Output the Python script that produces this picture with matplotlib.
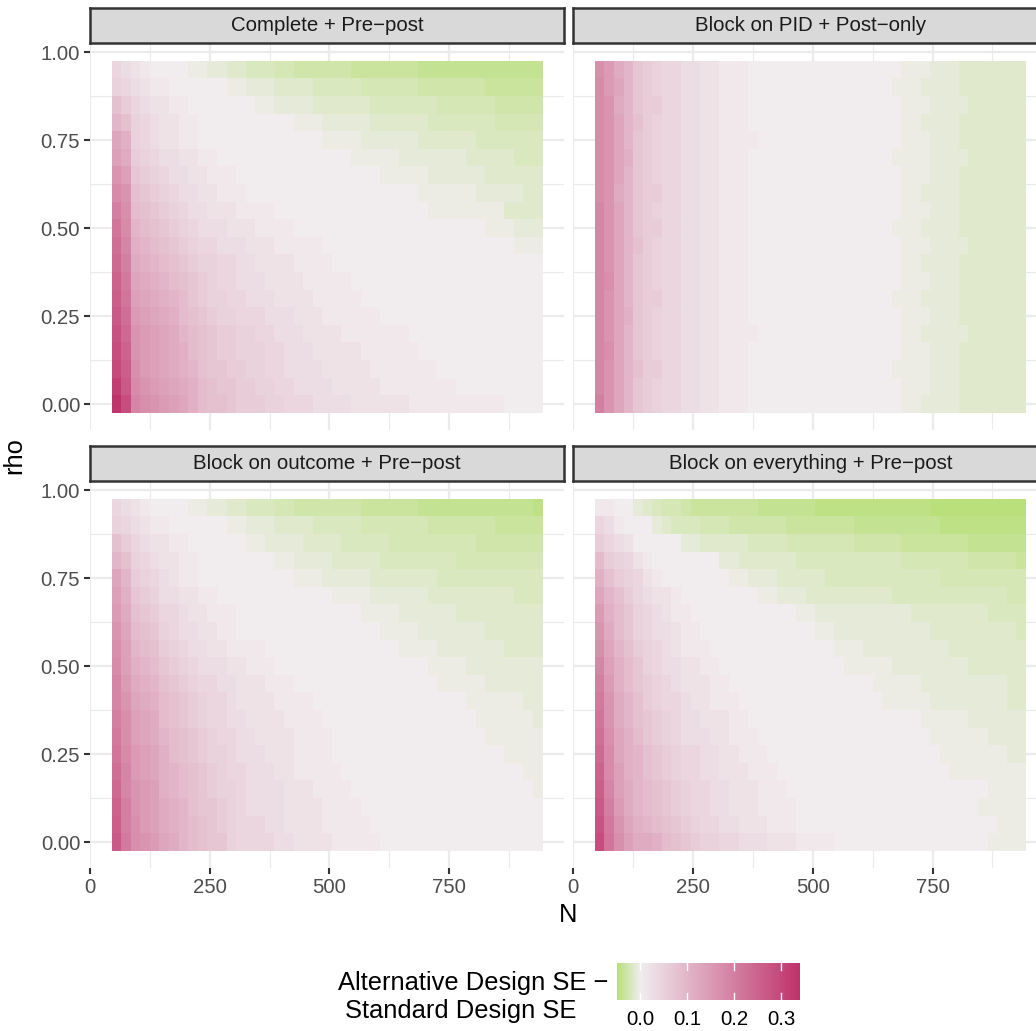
import numpy as np
import matplotlib
matplotlib.use("Agg")
import matplotlib.pyplot as plt
from matplotlib.colors import LinearSegmentedColormap, TwoSlopeNorm
from matplotlib.ticker import MultipleLocator, FormatStrFormatter

plt.rcParams['font.family'] = ['Liberation Sans', 'DejaVu Sans']

# tile centres
n_values = [55, 75, 95, 115, 135, 155, 175, 195, 215, 235, 255, 275, 295, 315, 335,
            355, 375, 395, 415, 435, 455, 475, 495, 515, 535, 555, 575, 595, 615, 635,
            655, 675, 695, 715, 735, 755, 775, 795, 815, 835, 855, 875, 895, 915, 935]
rho_values = [0.00, 0.05, 0.10, 0.15, 0.20, 0.25, 0.30, 0.35, 0.40, 0.45,
              0.50, 0.55, 0.60, 0.65, 0.70, 0.75, 0.80, 0.85, 0.90, 0.95]

panel_titles = ["Complete + Pre\u2212post", "Block on PID + Post\u2212only",
                "Block on outcome + Pre\u2212post", "Block on everything + Pre\u2212post"]

# SE differences, one string per row, first row = rho 0.95
# '0'..'9','A'..'Z' -> 0.00 .. 0.35 (steps of 0.01), 'a'..'j' -> -0.005 .. -0.05
POS = "0123456789ABCDEFGHIJKLMNOPQRSTUVWXYZ"
NEG = "abcdefghij"

complete_prepost = [
    "43210 000aa bbccd ddeef fffff ggggg gghhh hhhhh hhhhh",
    "54321 10000 00aab bbccc cdddd deeee eefff ffffg ggggg",
    "86432 21100 00000 aabbb bcccc ccddd dddde eeeee fffff",
    "A8543 22110 00000 0000a aabbb bbccc cccdd ddddd eeeee",
    "DB543 22110 00000 00000 00aaa abbbb bbccc cccdd ddddd",
    "EC654 33221 10000 00000 00000 aaaaa bbbbb bbccc ccddd",
    "GE765 43322 11100 00000 00000 000aa aaabb bbbbc ccccc",
    "IG876 54332 21110 00000 00000 00000 00aaa aaabb bbbcc",
    "KH987 65433 22211 11000 00000 00000 000aa aaaaa acccc",
    "MIA98 76543 33222 11110 00000 00000 00000 0000a aabbb",
    "NJBA9 87654 43332 22111 11000 00000 00000 00000 00aaa",
    "OKCBA 98765 54433 22221 11100 00000 00000 00000 00000",
    "PLDCB A9876 54433 32222 11111 00000 00000 00000 00000",
    "QMEDC BA976 55443 33222 21111 10000 00000 00000 00000",
    "RNFED CB987 65544 43332 22111 11100 00000 00000 00000",
    "SOGFE DCA98 76655 44333 22221 11111 10000 00000 00000",
    "TPGFE DCB98 76655 54433 32222 21111 11000 00000 00000",
    "UQHFE DCBA8 77665 54433 33222 22111 11110 00000 00000",
    "WRIGF EDCB9 87766 55443 33322 22211 11111 10000 00000",
    "YTJHG FEDB9 88766 65544 43333 22222 21111 11111 10000",
]

pid_postonly = [
    "HFCA7 65443 32211 10000 00000 00000 00aaa bbbcc ccccc",
    "IFDA7 65443 32211 10000 00000 00000 0aaab bbbcc ccccc",
    "IGCA7 66443 32211 10000 00000 00000 00aaa bbbbc ccccc",
    "IGDA8 65443 32211 10000 00000 00000 00aab bbbcc ccccc",
    "IGDA7 65443 32211 11000 00000 00000 00aaa bbbcc ccccc",
    "IGDB7 65443 32211 10000 00000 00000 0aaaa bbbbc ccccc",
    "IGDA7 65443 32211 10000 00000 00000 00aaa bbbcc ccccc",
    "IGCA7 66443 32211 10000 00000 00000 00aab bbbcc ccccc",
    "JGDA7 65443 32211 10000 00000 00000 00aaa bbbcc ccccc",
    "JGDA7 66443 32211 10000 00000 00000 0aaab bbbcc ccccc",
    "JGDA8 65443 32211 10000 00000 00000 00aaa bbbbc ccccc",
    "JGDA7 65443 32211 10000 00000 00000 00aab bbbcc ccccc",
    "JHDA7 65443 32211 10000 00000 00000 00aaa bbbcc ccccc",
    "JGDA7 66443 32211 10000 00000 00000 0aaab bbbcc ccccc",
    "JGDB7 65443 32211 10000 00000 00000 00aaa bbbcc ccccc",
    "JGDA7 65443 32211 11000 00000 00000 00aab bbbbc ccccc",
    "JHDA7 65443 32211 10000 00000 00000 00aaa bbbcc ccccc",
    "JGDA8 66443 32211 10000 00000 00000 0aaaa bbbcc ccccc",
    "JGDA7 65443 32211 10000 00000 00000 00aaa bbbcc ccccc",
    "KGDA7 65443 32211 10000 00000 00000 00aab bbbcc ccccc",
]

outcome_prepost = [
    "43210 000aa bbccd ddeef fffff fgggg gghhh hhhhh hhhhi",
    "54321 10000 00aab bbccc cdddd deeee eeeff fffff ggggg",
    "86432 21100 0000a abbbb ccccd dddde eeeee eeeff fffff",
    "A8543 22110 00000 00aab bbbcc cccdd ddddd deeee eeeee",
    "DA654 32110 00000 0000a aabbb bbccc ccccd ddddd ddddd",
    "EB765 33221 10000 00000 000aa aabbb bbbcc ccccc ccddd",
    "FC876 44322 11100 00000 00000 0aaaa bbbbb bcccc ccccc",
    "GD987 54332 21100 00000 00000 000aa aabbb bbbbc ccccc",
    "HEA98 65433 22111 10000 00000 00000 aaaab bbbbb bcccc",
    "IEBA9 76543 33221 11000 00000 00000 000aa aabbb bbbbb",
    "JFCBA 87654 43322 21110 00000 00000 0000a aaaab bbbbb",
    "JGDCB 98765 44322 22111 10000 00000 00000 00aaa aaabb",
    "KHEDC 98765 44332 22211 11000 00000 00000 000aa aaaab",
    "LHEDC A9876 54433 22221 11100 00000 00000 0000a aaaaa",
    "MIFED B9876 55433 32221 11100 00000 00000 00000 0aaaa",
    "NJFED BA987 65443 33221 11110 00000 00000 00000 000aa",
    "OJGFE BA987 65543 33322 21111 00000 00000 00000 0000a",
    "PKGFE CBA87 76543 33322 22111 10000 00000 00000 00000",
    "QKHFE CBA98 76544 43322 22111 11000 00000 00000 00000",
    "RLHGF DCA98 77544 44332 22211 11100 00000 00000 00000",
]

everything_prepost = [
    "1100b cdeef ggggg gghhh hhhii iiiii iiiii jjjjj jjjjj",
    "43100 0bcdd deeef fffff ggggg gghhh hhhhh hiiii iiiii",
    "64320 0000b bcccc cdddd eeeee eefff ffggg ggggh hhhhh",
    "96542 10000 000bb ccccc cdddd ddddd ddeee eeeef ffffg",
    "B8654 21000 0000a abbbc ccccd ddddd ddddd deeee eeeee",
    "DA864 32210 00000 00aab bbccc ccccc cdddd ddddd dddee",
    "FB975 43211 00000 00000 0aabb bbbbb bbbcc ccccc cdddd",
    "GC975 43321 10000 00000 000aa bbbbb bbbbb ccccc ccccd",
    "HDA86 54321 11000 00000 00000 aaabb bbbbb bbccc ccccc",
    "JEB97 54332 21100 00000 00000 0aaaa abbbb bbbbc ccccc",
    "KFB97 65432 22110 00000 00000 0000a aaaab bbbbb bbbcc",
    "LGCA8 65443 22111 00000 00000 00000 aaaaa bbbbb bbbcc",
    "MGCA8 76543 32221 10000 00000 00000 0000a aaaab bbbbb",
    "NHDB9 76543 33221 11000 00000 00000 00000 aaaaa abbbb",
    "OIDBA 87654 43322 11100 00000 00000 00000 0aaaa aaabb",
    "PIEBA 87654 43322 21110 00000 00000 00000 00aaa aaaaa",
    "QJECA 98765 44332 22111 00000 00000 00000 00000 0aaaa",
    "RKFCA 98765 44332 22111 10000 00000 00000 00000 aaaaa",
    "SLGDB A9876 54433 22211 10000 00000 00000 00000 00aaa",
    "TMHEC CB987 65544 33322 21111 00000 00000 00000 0aaaa",
]


def decode(rows):
    grid = []
    for row in rows[::-1]:          # flip so that rho goes upwards
        row = row.replace(" ", "")
        assert len(row) == len(n_values), row
        grid.append([POS.index(c) / 100 if c in POS else -(NEG.index(c) + 1) / 200
                     for c in row])
    return np.array(grid)


grids = [decode(p) for p in (complete_prepost, pid_postonly, outcome_prepost, everything_prepost)]
vmin = min(g.min() for g in grids)
vmax = max(g.max() for g in grids)

cmap = LinearSegmentedColormap.from_list("se_diff", ["#b9e07b", "#f1edef", "#bf336b"])
norm = TwoSlopeNorm(vmin=vmin, vcenter=0.0, vmax=vmax)

# tile edges
n = np.array(n_values, dtype=float)
r = np.array(rho_values)
x_edges = np.append(n - 10, n[-1] + 10)
y_edges = np.append(r - 0.025, r[-1] + 0.025)
x_pad = 0.05 * (x_edges[-1] - x_edges[0])
y_pad = 0.05 * (y_edges[-1] - y_edges[0])

W, H = 1036, 1031
fig = plt.figure(figsize=(W / 100, H / 100), dpi=100)


def px_rect(x0, y_top, x1, y_bot):
    return [x0 / W, (H - y_bot) / H, (x1 - x0) / W, (y_bot - y_top) / H]


panel_w, panel_h, strip_h = 474.2, 387.2, 35
col_x = [90, 573.3]
row_y = [43.2, 481.2]

for i, (title, grid) in enumerate(zip(panel_titles, grids)):
    row, col = divmod(i, 2)
    x0, y0 = col_x[col], row_y[row]
    ax = fig.add_axes(px_rect(x0, y0, x0 + panel_w, y0 + panel_h))
    ax.pcolormesh(x_edges, y_edges, grid, cmap=cmap, norm=norm,
                  shading='flat', antialiased=False, linewidth=0)
    ax.set_xlim(x_edges[0] - x_pad, x_edges[-1] + x_pad)
    ax.set_ylim(y_edges[0] - y_pad, y_edges[-1] + y_pad)
    ax.xaxis.set_major_locator(MultipleLocator(250))
    ax.xaxis.set_minor_locator(MultipleLocator(125))
    ax.yaxis.set_major_locator(MultipleLocator(0.25))
    ax.yaxis.set_minor_locator(MultipleLocator(0.125))
    ax.yaxis.set_major_formatter(FormatStrFormatter('%.2f'))
    ax.set_axisbelow(True)
    ax.grid(which='major', color='#ebebeb', linewidth=1.6)
    ax.grid(which='minor', color='#ebebeb', linewidth=0.8)
    for s in ax.spines.values():
        s.set_visible(False)
    ax.tick_params(which='minor', length=0)
    ax.tick_params(which='major', length=4.1, width=1.5, color='#333333',
                   labelcolor='#4d4d4d', labelsize=14.7, pad=3)
    ax.tick_params(axis='x', bottom=(row == 1), labelbottom=(row == 1))
    ax.tick_params(axis='y', left=(col == 0), labelleft=(col == 0))

    # facet strip
    sax = fig.add_axes(px_rect(x0, y0 - strip_h, x0 + panel_w, y0))
    sax.set_facecolor('#d9d9d9')
    sax.set_xticks([])
    sax.set_yticks([])
    for s in sax.spines.values():
        s.set_color('#333333')
        s.set_linewidth(1.8)
    sax.text(0.5, 0.5, title, ha='center', va='center', fontsize=14.7,
             color='#1a1a1a', transform=sax.transAxes)

fig.text(14 / W, 1 - 455.8 / H, "rho", rotation=90, ha='center', va='center', fontsize=18.4)
fig.text(568.5 / W, 1 - 915 / H, "N", ha='center', va='center', fontsize=18.4)

# colour bar legend
cax = fig.add_axes(px_rect(617, 963, 800, 1000))
grad = np.linspace(vmin, vmax, 300)
cax.imshow(grad[None, :], aspect='auto', cmap=cmap, norm=norm,
           extent=(vmin, vmax, 0, 1), interpolation='bilinear')
cax.set_xlim(vmin, vmax)
cax.set_ylim(0, 1)
cax.axis('off')
for t in [0.0, 0.1, 0.2, 0.3]:
    cax.plot([t, t], [0, 0.2], color='white', linewidth=1)
    cax.plot([t, t], [0.8, 1], color='white', linewidth=1)
    cax.text(t, -0.54, f"{t:.1f}", ha='center', va='center', fontsize=14.7,
             color='black', clip_on=False)

fig.text(338 / W, 1 - 983 / H, "Alternative Design SE \u2212", ha='left', va='center', fontsize=18.4)
fig.text(345 / W, 1 - 1011 / H, "Standard Design SE", ha='left', va='center', fontsize=18.4)

fig.savefig("out.png", dpi=100)
